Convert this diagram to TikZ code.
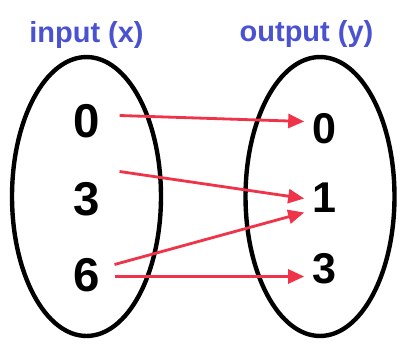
\documentclass[tikz,border=0pt]{standalone}
\usepackage{fontspec}
\setmainfont{Liberation Sans}
\usetikzlibrary{arrows.meta,shapes.geometric,calc}
\definecolor{LabelBlue}{HTML}{4A52D2}
\definecolor{ArrowRed}{HTML}{EF3349}

\begin{document}
\begin{tikzpicture}[x=0.02cm,y=-0.02cm,
    set/.style={ellipse,draw=black,line width=2.5pt,minimum width=2.98cm,
      minimum height=5.58cm,inner sep=0pt},
    head/.style={font=\fontsize{16.5}{18}\selectfont\bfseries,text=LabelBlue,inner sep=0pt},
    inval/.style={font=\fontsize{27}{30}\selectfont\bfseries,inner sep=0pt},
    outval/.style={font=\fontsize{24.5}{28}\selectfont\bfseries,inner sep=0pt},
    arr/.style={-{Triangle[length=3.2mm,width=2.8mm]},line width=1.6pt,ArrowRed}
  ]
    \useasboundingbox (0,0) rectangle (408,355);
    % the two sets
    \node[set] (domain) at (86.5,196.5) {};
    \node[set] (range) at (320,196.5) {};
    \node[head] (inlabel) at (86.5,35.5) {input (x)};
    \node[head] (outlabel) at (306.5,34.5) {output (y)};
    % values
    \node[inval] (x0) at (87,121.5) {0};
    \node[inval] (x3) at (87,199.5) {3};
    \node[inval] (x6) at (87,275.5) {6};
    \node[outval] (y0) at (324.5,128.5) {0};
    \node[outval] (y1) at (324.5,197.5) {1};
    \node[outval] (y3) at (324.5,268.5) {3};
    % mapping
    \draw[arr] ($(x0.east)+(19,-6)$) -- ($(y0.west)+(-8,-7)$);
    \draw[arr] ($(x3.east)+(19,-28)$) -- ($(y1.west)+(-8,1)$);
    \draw[arr] ($(x6.east)+(14,-11)$) -- ($(y1.west)+(-8,15)$);
    \draw[arr] ($(x6.east)+(14,1)$) -- ($(y3.west)+(-8,8)$);
  \end{tikzpicture}
\end{document}
